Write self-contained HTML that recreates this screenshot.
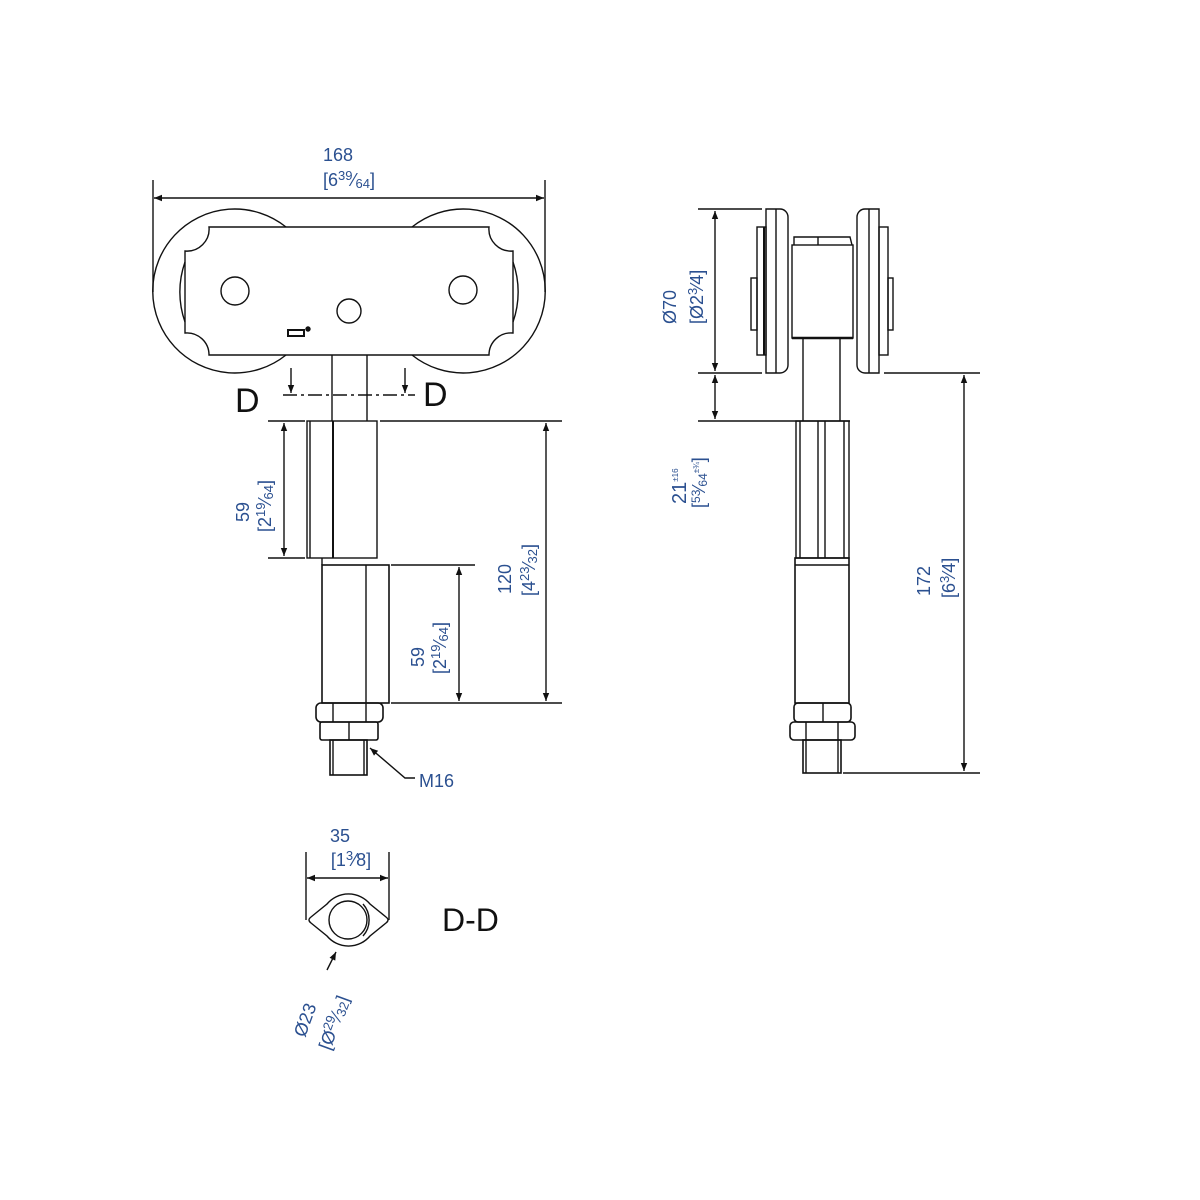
<!DOCTYPE html>
<html><head><meta charset="utf-8"><style>
html,body{margin:0;padding:0;background:#fff}
svg{display:block}
text{font-family:"Liberation Sans",sans-serif;fill:#2b5090;font-size:18px}
.k{fill:#111}
</style></head><body>
<svg width="1200" height="1200" viewBox="0 0 1200 1200" xmlns="http://www.w3.org/2000/svg">
<defs>
<marker id="a" viewBox="0 0 10 10" refX="10" refY="5" markerWidth="11" markerHeight="8" orient="auto-start-reverse" markerUnits="userSpaceOnUse"><path d="M0,1 L10,5 L0,9 z" fill="#111"/></marker>
</defs>
<g stroke="#111" stroke-width="1.4" fill="none">
<line x1="153" y1="180" x2="153" y2="292"/><line x1="545" y1="180" x2="545" y2="292"/>
<line x1="154" y1="198" x2="544" y2="198" marker-start="url(#a)" marker-end="url(#a)"/>
<path d="M286,227 A82,82 0 1 0 286,355"/>
<path d="M412,227 A82,82 0 1 1 412,355"/>
<path d="M185,262 A90,90 0 0 0 185,322"/>
<path d="M513,262 A90,90 0 0 1 513,322"/>
<path d="M209,227 L489,227 A22,22 0 0 0 513,251 L513,333 A22,22 0 0 0 489,355 L209,355 A22,22 0 0 0 185,333 L185,251 A22,22 0 0 0 209,227 Z"/>
<circle cx="235" cy="291" r="14"/><circle cx="349" cy="311" r="12"/><circle cx="463" cy="290" r="14"/>
<rect x="288" y="330" width="16" height="6" stroke-width="2"/><circle cx="308" cy="329" r="2" fill="#111"/>
<line x1="332" y1="355" x2="332" y2="421"/><line x1="367" y1="355" x2="367" y2="421"/>
<line x1="283" y1="395" x2="415" y2="395" stroke-dasharray="14,4,3,4"/>
<line x1="291" y1="368" x2="291" y2="393" marker-end="url(#a)"/>
<line x1="405" y1="368" x2="405" y2="393" marker-end="url(#a)"/>
<rect x="307" y="421" width="70" height="137"/>
<line x1="310" y1="421" x2="310" y2="558"/><line x1="333" y1="421" x2="333" y2="558" stroke-width="2"/>
<line x1="268" y1="421" x2="305" y2="421"/><line x1="268" y1="558" x2="305" y2="558"/>
<line x1="284" y1="423" x2="284" y2="556" marker-start="url(#a)" marker-end="url(#a)"/>
<line x1="380" y1="421" x2="562" y2="421"/>
<line x1="546" y1="423" x2="546" y2="701" marker-start="url(#a)" marker-end="url(#a)"/>
<line x1="322" y1="558" x2="322" y2="565"/>
<rect x="322" y="565" width="67" height="138" stroke-width="1.6"/>
<line x1="366" y1="565" x2="366" y2="703"/>
<line x1="391" y1="565" x2="475" y2="565"/><line x1="391" y1="703" x2="562" y2="703"/>
<line x1="459" y1="567" x2="459" y2="701" marker-start="url(#a)" marker-end="url(#a)"/>
<rect x="316" y="703" width="67" height="19" rx="5" stroke-width="1.6"/>
<line x1="333" y1="703" x2="333" y2="722"/><line x1="366" y1="703" x2="366" y2="722"/>
<rect x="320" y="722" width="58" height="18" rx="2" stroke-width="1.6"/>
<line x1="349" y1="722" x2="349" y2="740"/>
<rect x="330" y="740" width="37" height="35" stroke-width="1.6"/>
<line x1="333" y1="740" x2="333" y2="775"/><line x1="364" y1="740" x2="364" y2="775"/>
<polyline points="415,778 405,778 370,748" marker-end="url(#a)"/>
<line x1="698" y1="209" x2="762" y2="209"/><line x1="698" y1="373" x2="762" y2="373"/>
<line x1="698" y1="421" x2="850" y2="421"/><line x1="884" y1="373" x2="980" y2="373"/>
<line x1="715" y1="211" x2="715" y2="371" marker-start="url(#a)" marker-end="url(#a)"/>
<line x1="715" y1="375" x2="715" y2="419" marker-start="url(#a)" marker-end="url(#a)"/>
<path d="M766,209 L780,209 A8,8 0 0 1 788,217 L788,365 A8,8 0 0 1 780,373 L766,373 Z"/>
<line x1="776" y1="209" x2="776" y2="373"/>
<rect x="757" y="227" width="9" height="128"/><line x1="764" y1="227" x2="764" y2="355" stroke-width="2"/>
<rect x="751" y="278" width="6" height="52"/>
<path d="M879,209 L865,209 A8,8 0 0 0 857,217 L857,365 A8,8 0 0 0 865,373 L879,373 Z"/>
<line x1="869" y1="209" x2="869" y2="373"/>
<rect x="879" y="227" width="9" height="128"/>
<rect x="888" y="278" width="5" height="52"/>
<rect x="792" y="245" width="61" height="93"/><line x1="792" y1="338" x2="853" y2="338" stroke-width="2.5"/>
<path d="M794,245 L794,237 L850,237 L852,245"/><line x1="818" y1="237" x2="818" y2="245"/>
<line x1="803" y1="338" x2="803" y2="421"/><line x1="840" y1="338" x2="840" y2="421"/>
<rect x="796" y="421" width="53" height="137"/>
<line x1="800" y1="421" x2="800" y2="558"/><line x1="818" y1="421" x2="818" y2="558"/><line x1="825" y1="421" x2="825" y2="558"/><line x1="844" y1="421" x2="844" y2="558"/>
<rect x="795" y="558" width="54" height="145" stroke-width="1.6"/>
<line x1="795" y1="565" x2="849" y2="565"/>
<rect x="794" y="703" width="57" height="19" rx="4" stroke-width="1.6"/><line x1="823" y1="703" x2="823" y2="722"/>
<rect x="790" y="722" width="65" height="18" rx="4" stroke-width="1.6"/><line x1="806" y1="722" x2="806" y2="740"/><line x1="838" y1="722" x2="838" y2="740"/>
<rect x="803" y="740" width="38" height="33" stroke-width="1.6"/><line x1="806" y1="740" x2="806" y2="773"/><line x1="838" y1="740" x2="838" y2="773"/>
<line x1="843" y1="773" x2="980" y2="773"/>
<line x1="964" y1="375" x2="964" y2="771" marker-start="url(#a)" marker-end="url(#a)"/>
<line x1="306" y1="852" x2="306" y2="920"/><line x1="389" y1="852" x2="389" y2="920"/>
<line x1="307" y1="878" x2="388" y2="878" marker-start="url(#a)" marker-end="url(#a)"/>
<path d="M327,904 A28,28 0 0 1 370,904 L386,917 Q390,920 386,923 L370,936 A28,28 0 0 1 327,936 L311,923 Q307,920 311,917 Z"/>
<circle cx="348" cy="920" r="19"/>
<path d="M363,904 A24,24 0 0 1 363,936"/>
<line x1="327" y1="970" x2="336" y2="952" marker-end="url(#a)"/>
</g>
<text x="338" y="161" text-anchor="middle">168</text>
<text x="349" y="186" text-anchor="middle">[6<tspan font-size="13" dy="-6">39</tspan><tspan dy="6">⁄</tspan><tspan font-size="13" dy="2">64</tspan><tspan dy="-2">]</tspan></text>
<text class="k" x="235" y="412" style="font-size:34px">D</text>
<text class="k" x="423" y="406" style="font-size:34px">D</text>
<text transform="translate(249,522) rotate(-90)">59</text>
<text transform="translate(271,532) rotate(-90)">[2<tspan font-size="13" dy="-6">19</tspan><tspan dy="6">⁄</tspan><tspan font-size="13" dy="2">64</tspan><tspan dy="-2">]</tspan></text>
<text transform="translate(424,667) rotate(-90)">59</text>
<text transform="translate(446,674) rotate(-90)">[2<tspan font-size="13" dy="-6">19</tspan><tspan dy="6">⁄</tspan><tspan font-size="13" dy="2">64</tspan><tspan dy="-2">]</tspan></text>
<text transform="translate(511,594) rotate(-90)">120</text>
<text transform="translate(535,596) rotate(-90)">[4<tspan font-size="13" dy="-6">23</tspan><tspan dy="6">⁄</tspan><tspan font-size="13" dy="2">32</tspan><tspan dy="-2">]</tspan></text>
<text x="419" y="787">M16</text>
<text transform="translate(676,324) rotate(-90)">Ø70</text>
<text transform="translate(703,324) rotate(-90)">[Ø2<tspan font-size="13" dy="-6">3</tspan><tspan dy="6">⁄4]</tspan></text>
<text transform="translate(686,504) rotate(-90)" style="font-size:20px">21<tspan font-size="8" dy="-8">±16</tspan></text>
<text transform="translate(705,508) rotate(-90)">[<tspan font-size="12" dy="-5">53</tspan><tspan dy="5">⁄</tspan><tspan font-size="12" dy="2">64</tspan><tspan font-size="8" dy="-8">±¾</tspan><tspan dy="6">]</tspan></text>
<text transform="translate(930,596) rotate(-90)">172</text>
<text transform="translate(955,598) rotate(-90)">[6<tspan font-size="13" dy="-6">3</tspan><tspan dy="6">⁄4]</tspan></text>
<text x="340" y="842" text-anchor="middle">35</text>
<text x="351" y="866" text-anchor="middle">[1<tspan font-size="13" dy="-6">3</tspan><tspan dy="6">⁄8]</tspan></text>
<text class="k" x="442" y="931" style="font-size:32px">D-D</text>
<text transform="translate(305,1038) rotate(-70)">Ø23</text>
<text transform="translate(330,1051) rotate(-70)">[Ø<tspan font-size="13" dy="-6">29</tspan><tspan dy="6">⁄</tspan><tspan font-size="13" dy="2">32</tspan><tspan dy="-2">]</tspan></text>
</svg>
</body></html>
